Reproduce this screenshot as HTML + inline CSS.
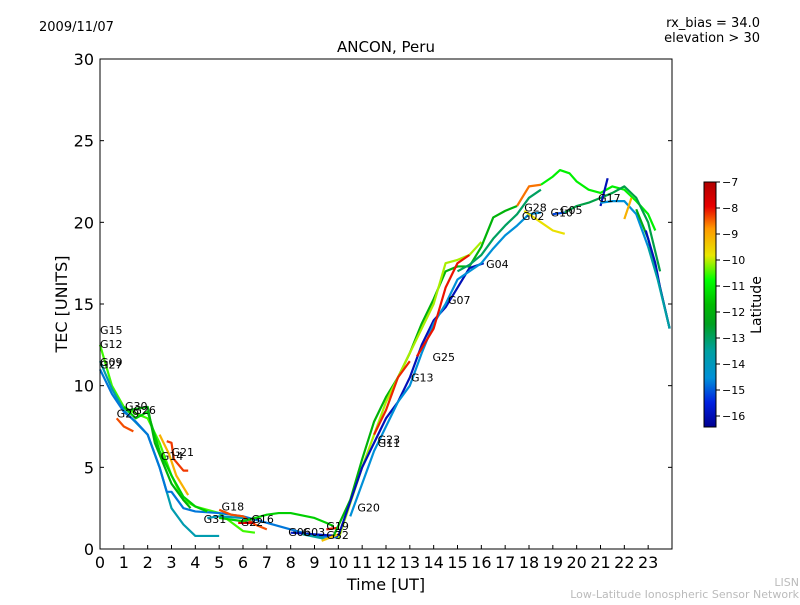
<!DOCTYPE html>
<html><head><meta charset="utf-8"><style>
body{margin:0;background:#fff;}
svg text{font-family:"DejaVu Sans","Liberation Sans",sans-serif;}
</style></head><body>
<svg id="chart" width="800" height="600" viewBox="0 0 800 600" xmlns="http://www.w3.org/2000/svg">
<defs>
<linearGradient id="cbgrad" x1="0" y1="0" x2="0" y2="1">
<stop offset="0" stop-color="#b00000"/><stop offset="0.1" stop-color="#e80000"/><stop offset="0.19" stop-color="#ff9900"/><stop offset="0.3" stop-color="#e8e800"/><stop offset="0.4" stop-color="#00ff00"/><stop offset="0.5" stop-color="#00bb00"/><stop offset="0.58" stop-color="#00a020"/><stop offset="0.69" stop-color="#00a0a0"/><stop offset="0.8" stop-color="#0090d8"/><stop offset="0.9" stop-color="#0020e0"/><stop offset="1" stop-color="#000090"/>
</linearGradient>
</defs>
<text x="39" y="31" font-size="13">2009/11/07</text>
<text x="760" y="27" font-size="13" text-anchor="end">rx_bias = 34.0</text>
<text x="760" y="42" font-size="13" text-anchor="end">elevation &gt; 30</text>
<text x="386" y="52" font-size="15" text-anchor="middle">ANCON, Peru</text>
<g id="plot"></g>
<rect x="100" y="59" width="572" height="490" fill="none" stroke="#000" stroke-width="1"/>
<g id="axes"></g>
<text x="386" y="590" font-size="16" text-anchor="middle">Time [UT]</text>
<text x="67" y="304" font-size="16" text-anchor="middle" transform="rotate(-90 67 304)">TEC [UNITS]</text>
<rect x="704" y="182" width="12" height="245" fill="url(#cbgrad)" stroke="#000" stroke-width="1"/>
<g id="cbticks"></g>
<text x="761" y="305" font-size="14" text-anchor="middle" transform="rotate(-90 761 305)">Latitude</text>
<text x="799" y="586" font-size="11" fill="#bbb" text-anchor="end">LISN</text>
<text x="799" y="598" font-size="11" fill="#bbb" text-anchor="end">Low-Latitude Ionospheric Sensor Network</text>
</svg>
<script>
const xTicks=[0,1,2,3,4,5,6,7,8,9,10,11,12,13,14,15,16,17,18,19,20,21,22,23];
const yTicks=[0,5,10,15,20,25,30];
const cbTicks=[-7,-8,-9,-10,-11,-12,-13,-14,-15,-16];
const trackLat=[-10.5,-13.8,-14.8,-11.5,-8.3,-12,-8.2,-9,-14,-8.3,-7.8,-11.5,-15.8,-13.5,-8,-9.2,-12,-10,-16,-14.6,-8.1,-8,-13,-8.5,-11,-9.6,-15.2,-12.8,-16,-14.6,-9,-12.2,-16,-13.6];
const trackTime=[
[0,0.5,1,1.5,2,2.5,3,3.5,4,5,6,6.5],
[0,0.5,1,2,2.5,3,3.5,4,4.5,5],
[0,0.5,1,1.5,2,2.5,2.8,3,3.5,4,5,6,7,8,9,10],
[1,1.5,2,2.5,3,3.5,4,4.5],
[0.7,1,1.4],
[1.2,2,2.3,3,3.5,3.8],
[2.8,3,3.1,3.5,3.7],
[2.5,2.9,3.2,3.7],
[4.5,5,6,6.5],
[5,5.5,6,6.5,7],
[5.8,6.5],
[5,6,7,7.5,8,9,9.5,9.8],
[8,9,10],
[8.5,9.5],
[9.5,10],
[9.3,10],
[9.8,10.5,11,11.5,12,12.5,13,13.5,14,14.5,15,15.5,16,16.5,17,17.5],
[10,11,12,13,14,14.5,15,15.5,16],
[10,11,12,12.5,13,13.5,14,14.5,15,15.5,16.1],
[10.5,11.5,12,12.5,13,13.5,14,14.5,15,15.5,16,16.5,17,17.5,18,18.5],
[11.5,12,12.5,13],
[13.3,14,14.5,15,15.5],
[15,15.5,16,16.5,17,17.5,18,18.5],
[17.5,18,18.5],
[18.5,19,19.3,19.7,20,20.5,21,21.5,22,22.5,23,23.3],
[17.8,18.5,19,19.5],
[19,19.5],
[19.5,20,20.5,21,21.5,22,22.5,23,23.5],
[21,21.3],
[21,21.5,22,22.5,23],
[22,22.3],
[22.5,23,23.5,23.9],
[22.9,23.3,23.5,23.9],
[23,23.4,23.9]];
const trackTec=[
[12.5,10,8.7,8.3,8,6.5,4.5,3,2.6,2.2,1.1,1.0],
[11.5,9.8,8.5,7,5,2.5,1.5,0.8,0.8,0.8],
[11,9.5,8.4,7.8,7,5,3.5,3.5,2.5,2.3,2.2,2,1.6,1.2,0.8,0.7],
[8.7,8,8.4,6,4.5,3.2,2.6,2.3],
[8,7.5,7.2],
[8.5,8.7,6.5,4,3,2.5],
[6.6,6.5,5.5,4.8,4.8],
[7,5.8,4.5,3.3],
[1.9,2.0,1.9,1.6],
[2.4,2.1,2.0,1.5,1.2],
[1.6,1.6],
[1.9,1.7,2.1,2.2,2.2,1.9,1.6,1.4],
[1.0,0.9,0.8],
[0.9,0.6],
[1.2,1.3],
[0.5,0.9],
[0.8,3,5.5,7.8,9.3,10.5,12,13.8,15.3,17,17.3,17.3,18.5,20.3,20.7,21],
[0.6,5,9,12,15,17.5,17.7,18,18.8],
[0.8,5,8,9,10.5,12.5,14,14.8,16,17.2,17.5],
[2,6,7.5,9,10,12,13.8,15,16.5,17,17.5,18.4,19.2,19.8,20.5,20.6],
[7,8.5,10.5,11.5],
[11.8,13.5,16,17.5,18],
[17,17.4,18,19,19.8,20.5,21.5,22],
[21,22.2,22.3],
[22.3,22.8,23.2,23,22.5,22,21.8,22.2,22,21.3,20.5,19.5],
[20.7,20,19.5,19.3],
[20.5,20.6],
[20.6,21,21.2,21.5,21.8,22.2,21.5,20,17],
[21,22.7],
[21.2,21.3,21.3,20.5,18.5],
[20.2,21.5],
[20.8,19,16,13.5],
[19.5,17.5,16,13.5],
[18.5,16.5,13.5]];
const labelNames=["G15","G12","G09","G27","G30","G29","G26","G14","G21","G18","G31","G22","G16","G06","G03","G19","G32","G20","G23","G11","G13","G25","G07","G04","G28","G02","G10","G05","G17"];
const labelTime=[0,0,0,0,1.05,0.7,1.4,2.55,3.0,5.1,4.35,5.9,6.35,7.9,8.5,9.5,9.5,10.8,11.65,11.65,13.05,13.95,14.6,16.2,17.8,17.7,18.9,19.3,20.9];
const labelTec=[13.4,12.55,11.45,11.3,8.75,8.3,8.5,5.7,5.95,2.6,1.85,1.65,1.85,1.05,1.05,1.4,0.85,2.55,6.7,6.5,10.5,11.75,15.25,17.45,20.9,20.4,20.6,20.75,21.5];

const NS="http://www.w3.org/2000/svg";
function X(t){return 100+t*572/24;}
function Y(v){return 549-v*490/30;}
function CB(l){return 182+(-7-l)*26;}
const stops=[[-7,[176,0,0]],[-7.9,[232,0,0]],[-8.7,[255,153,0]],[-9.7,[232,232,0]],[-10.8,[0,255,0]],[-11.8,[0,187,0]],[-12.5,[0,160,32]],[-13.5,[0,160,160]],[-14.6,[0,144,216]],[-15.5,[0,32,224]],[-16.5,[0,0,144]]];
function color(l){
  for(let i=0;i<stops.length-1;i++){const a=stops[i],b=stops[i+1];
    if(l<=a[0]&&l>=b[0]){const f=(a[0]-l)/(a[0]-b[0]);
      const c=a[1].map((v,k)=>Math.round(v+(b[1][k]-v)*f));return `rgb(${c})`;}}
  return l>-7?'rgb(176,0,0)':'rgb(0,0,144)';}
const plot=document.getElementById('plot');
trackTime.forEach((ts,i)=>{
  const p=document.createElementNS(NS,'polyline');
  p.setAttribute('points',ts.map((t,j)=>X(t)+','+Y(trackTec[i][j])).join(' '));
  p.setAttribute('fill','none');p.setAttribute('stroke',color(trackLat[i]));
  p.setAttribute('stroke-width','2.2');p.setAttribute('stroke-linejoin','round');
  
  
  plot.appendChild(p);});
labelNames.forEach((n,i)=>{
  const t=document.createElementNS(NS,'text');
  t.setAttribute('x',X(labelTime[i]));t.setAttribute('y',Y(labelTec[i])+4);
  t.setAttribute('font-size','11');t.textContent=n;
  
  
  plot.appendChild(t);});
const axes=document.getElementById('axes');
xTicks.forEach(v=>{
  const l=document.createElementNS(NS,'line');
  l.setAttribute('x1',X(v));l.setAttribute('x2',X(v));l.setAttribute('y1',549);l.setAttribute('y2',545);l.setAttribute('stroke','#000');
  
  
  axes.appendChild(l);
  const t=document.createElementNS(NS,'text');
  t.setAttribute('x',X(v));t.setAttribute('y',568);t.setAttribute('font-size','16');t.setAttribute('text-anchor','middle');t.textContent=v;
  
  
  axes.appendChild(t);});
yTicks.forEach(v=>{
  const l=document.createElementNS(NS,'line');
  l.setAttribute('x1',100);l.setAttribute('x2',104);l.setAttribute('y1',Y(v));l.setAttribute('y2',Y(v));l.setAttribute('stroke','#000');
  
  
  axes.appendChild(l);
  const l2=document.createElementNS(NS,'line');
  l2.setAttribute('x1',668);l2.setAttribute('x2',672);l2.setAttribute('y1',Y(v));l2.setAttribute('y2',Y(v));l2.setAttribute('stroke','#000');
  
  
  axes.appendChild(l2);
  const t=document.createElementNS(NS,'text');
  t.setAttribute('x',94);t.setAttribute('y',Y(v)+6);t.setAttribute('font-size','16');t.setAttribute('text-anchor','end');t.textContent=v;
  
  
  axes.appendChild(t);});
const cbt=document.getElementById('cbticks');
cbTicks.forEach(v=>{
  const l=document.createElementNS(NS,'line');
  l.setAttribute('x1',716);l.setAttribute('x2',720);l.setAttribute('y1',CB(v));l.setAttribute('y2',CB(v));l.setAttribute('stroke','#000');
  
  
  cbt.appendChild(l);
  const t=document.createElementNS(NS,'text');
  t.setAttribute('x',722);t.setAttribute('y',CB(v)+4);t.setAttribute('font-size','11');t.textContent='\u2212'+(-v);
  
  
  cbt.appendChild(t);});
</script>
</body></html>
